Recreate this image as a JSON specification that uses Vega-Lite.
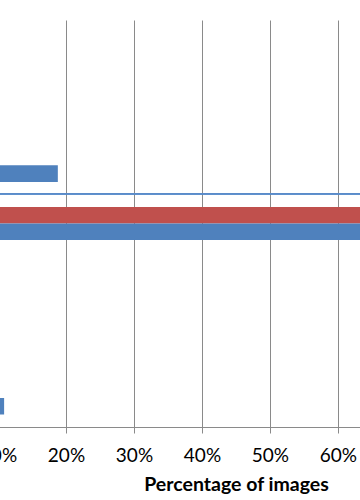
{
  "$schema": "https://vega.github.io/schema/vega-lite/v6.json",
  "autosize": {"type": "none"},
  "width": 430,
  "height": 407,
  "padding": {"left": -70, "top": 20, "right": 0, "bottom": 73},
  "background": "white",
  "config": {"view": {"stroke": null}, "font": "Lato"},
  "data": {"values": [
    {"category": "C1", "series": "Red", "value": 0.02},
    {"category": "C1", "series": "Blue", "value": 0.03},
    {"category": "C2", "series": "Red", "value": 0.02},
    {"category": "C2", "series": "Blue", "value": 0.04},
    {"category": "C3", "series": "Red", "value": 0.0},
    {"category": "C3", "series": "Blue", "value": 0.188},
    {"category": "C4", "series": "Red", "value": 0.70},
    {"category": "C4", "series": "Blue", "value": 0.68},
    {"category": "C5", "series": "Red", "value": 0.02},
    {"category": "C5", "series": "Blue", "value": 0.03},
    {"category": "C6", "series": "Red", "value": 0.01},
    {"category": "C6", "series": "Blue", "value": 0.02},
    {"category": "C7", "series": "Red", "value": 0.0},
    {"category": "C7", "series": "Blue", "value": 0.109}
  ]},
  "layer": [
    {
      "mark": {"type": "bar", "clip": true},
      "encoding": {
        "y": {"field": "category", "type": "nominal", "sort": null,
              "scale": {"paddingInner": 0.43, "paddingOuter": 0.215}, "axis": null},
        "yOffset": {"field": "series", "type": "nominal", "sort": ["Red", "Blue"]},
        "x": {"field": "value", "type": "quantitative",
              "scale": {"domain": [0, 0.6324], "nice": false, "zero": true, "clamp": false},
              "axis": {
                "values": [0.1, 0.2, 0.3, 0.4, 0.5, 0.6],
                "format": ".0%",
                "grid": true, "gridColor": "#8a8a8a", "gridWidth": 1,
                "domainColor": "#8a8a8a", "tickColor": "#8a8a8a", "tickSize": 6,
                "labelFontSize": 19, "labelColor": "#000000", "labelBaseline": "middle", "labelPadding": 22,
                "title": "Percentage of images", "titleFontSize": 19.5, "titleFontWeight": "bold",
                "titleColor": "#000000", "titleX": 306, "titleY": 57, "titleAlign": "center",
                "titleBaseline": "middle"
              }},
        "color": {"field": "series", "type": "nominal",
                  "scale": {"domain": ["Red", "Blue"], "range": ["#C0504D", "#4F81BD"]}, "legend": null}
      }
    },
    {
      "mark": {"type": "rule", "color": "#5B8BC9", "strokeWidth": 1},
      "encoding": {"y": {"datum": "C4", "type": "nominal", "bandPosition": -0.4}}
    }
  ]
}
